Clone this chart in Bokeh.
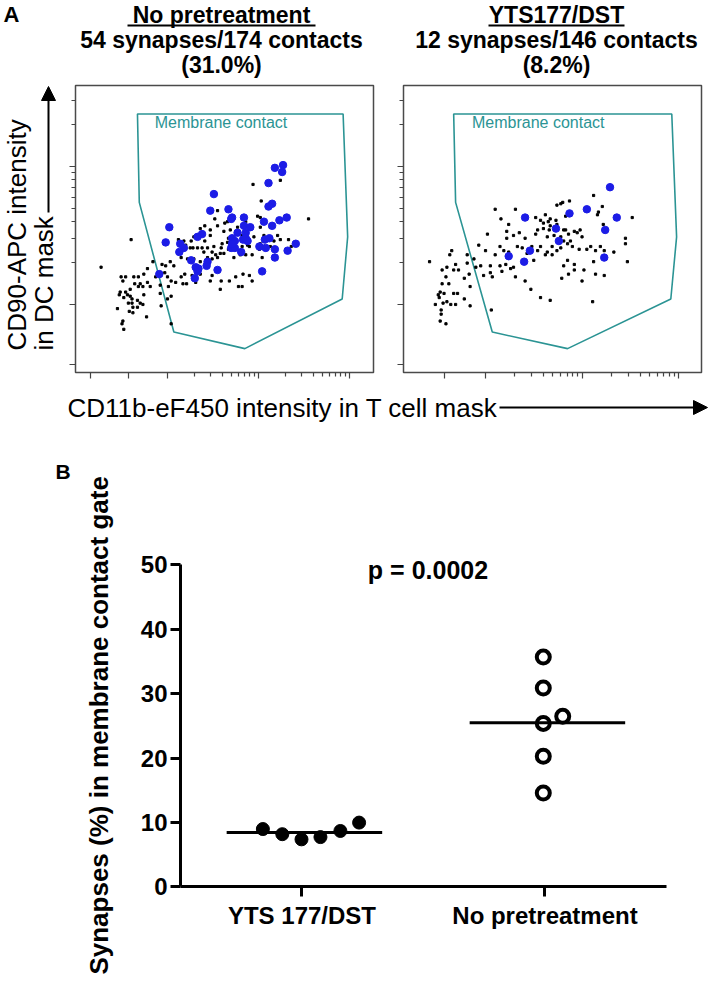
import numpy as np
from bokeh.plotting import figure
from bokeh.models import Label, Arrow, NormalHead, FixedTicker, Range1d
from bokeh.layouts import column, row
from bokeh.embed import file_html
from bokeh.resources import INLINE

FONT = "Liberation Sans"
TEAL = "#2b9494"
BLUE = "#1c1ce6"

# ---------------- Panel A data (log10 intensity units) ----------------
gate_x = [2.67, 4.93, 4.98, 4.92, 3.85, 3.07, 2.69]
gate_y = [4.38, 4.38, 3.49, 3.04, 2.68, 2.80, 3.74]

L_black_x = [3.94, 4.03, 4.24, 4.55, 3.55, 3.63, 3.52, 3.41, 2.60, 2.27, 3.47, 3.41, 3.12, 3.18, 3.25,
             3.28, 3.33, 3.38, 3.44, 3.40, 3.49, 3.53, 3.58, 3.59, 3.60, 3.66, 3.62, 3.67, 3.75, 3.82,
             3.88, 3.90, 4.02, 4.01, 4.13, 4.24, 4.33, 4.36, 4.04, 3.93, 3.86, 3.80, 3.73, 3.55, 3.49,
             3.44, 3.36, 3.29, 3.22, 3.15, 3.03, 3.07, 2.98, 2.97, 2.94, 2.78, 2.84, 2.74, 2.68, 2.63,
             2.54, 2.49, 2.51, 2.64, 2.70, 2.78, 2.87, 3.00, 3.04, 3.09, 3.15, 3.19, 3.27, 3.36, 3.49,
             3.59, 3.68, 3.75, 3.83, 3.90, 3.93, 3.82, 3.78, 3.58, 3.47, 3.31, 3.21, 3.17, 3.01, 2.92,
             2.81, 2.73, 2.68, 2.59, 2.54, 2.48, 2.56, 2.59, 2.47, 2.52, 2.61, 2.67, 2.74, 2.73, 2.70,
             2.57, 2.61, 2.62, 2.58, 2.62, 2.92, 3.00, 3.04, 2.93, 2.51, 2.50, 2.52, 2.45, 2.67, 3.04,
             2.77, 3.51, 3.71, 3.77, 3.69, 3.62, 3.55, 3.47, 3.36, 3.29, 3.26, 3.20, 3.67, 3.82, 3.93,
             3.95, 4.06, 4.17, 4.21, 4.13, 4.02, 3.86, 3.66, 3.99, 4.02]
L_black_y = [3.87, 3.75, 3.90, 3.62, 3.68, 3.59, 3.62, 3.57, 3.47, 3.27, 3.50, 3.46, 3.47, 3.46, 3.41,
             3.41, 3.41, 3.41, 3.41, 3.38, 3.38, 3.36, 3.37, 3.41, 3.44, 3.45, 3.37, 3.40, 3.42, 3.42,
             3.43, 3.42, 3.44, 3.40, 3.42, 3.47, 3.47, 3.42, 3.34, 3.36, 3.36, 3.36, 3.34, 3.34, 3.33,
             3.34, 3.31, 3.33, 3.33, 3.34, 3.31, 3.28, 3.28, 3.23, 3.29, 3.26, 3.31, 3.22, 3.20, 3.20,
             3.20, 3.20, 3.17, 3.15, 3.15, 3.16, 3.20, 3.20, 3.17, 3.16, 3.20, 3.22, 3.21, 3.22, 3.21,
             3.17, 3.17, 3.20, 3.22, 3.21, 3.17, 3.13, 3.13, 3.11, 3.17, 3.16, 3.15, 3.15, 3.13, 3.14,
             3.13, 3.13, 3.13, 3.11, 3.09, 3.09, 3.07, 3.06, 3.07, 3.05, 3.04, 3.03, 3.07, 3.00, 3.01,
             3.01, 3.01, 2.98, 2.95, 2.94, 3.08, 3.04, 3.06, 2.99, 2.88, 2.86, 2.82, 2.97, 2.98, 2.86,
             2.91, 3.42, 3.49, 3.56, 3.54, 3.53, 3.57, 3.54, 3.55, 3.49, 3.46, 3.43, 3.48, 3.50, 3.56,
             3.49, 3.50, 3.46, 3.50, 3.56, 3.56, 3.60, 3.60, 3.64, 3.63]
L_blue_x = [4.18, 4.27, 4.26, 4.11, 3.51, 4.15, 4.11, 3.47, 3.67, 3.71, 3.70, 3.84, 4.06, 4.23, 4.31,
            3.02, 3.84, 3.91, 3.77, 4.15, 3.86, 3.38, 3.33, 3.71, 3.74, 3.83, 3.86, 4.07, 4.12, 2.98,
            3.14, 3.18, 3.13, 4.01, 4.08, 4.41, 3.70, 3.74, 3.81, 4.18, 4.32, 3.26, 3.44, 4.18, 3.43,
            3.31, 3.33, 3.55, 4.04, 2.91, 3.30, 3.34, 3.71, 3.88]
L_blue_y = [3.99, 4.01, 3.96, 3.88, 3.80, 3.73, 3.71, 3.68, 3.69, 3.63, 3.62, 3.63, 3.60, 3.61, 3.63,
            3.56, 3.57, 3.56, 3.52, 3.57, 3.52, 3.51, 3.49, 3.48, 3.46, 3.47, 3.48, 3.47, 3.48, 3.45,
            3.44, 3.41, 3.38, 3.42, 3.41, 3.44, 3.41, 3.41, 3.38, 3.40, 3.39, 3.32, 3.31, 3.34, 3.28,
            3.27, 3.24, 3.25, 3.24, 3.22, 3.19, 3.26, 3.44, 3.46]

R_black_x = [4.12, 3.74, 3.78, 3.80, 3.87, 3.31, 3.10, 3.16, 3.24, 3.22, 3.22, 3.02, 3.52, 3.62, 3.67,
             3.73, 3.57, 3.60, 3.65, 3.54, 3.52, 3.41, 3.35, 3.29, 3.33, 3.38, 3.43, 3.48, 3.54, 3.57,
             3.62, 3.50, 3.15, 3.19, 3.24, 3.10, 3.15, 3.05, 3.00, 2.93, 2.95, 2.90, 2.81, 2.88, 2.83,
             2.78, 2.72, 2.81, 2.67, 2.69, 2.63, 2.65, 2.60, 2.55, 2.59, 2.62, 2.55, 2.53, 2.51, 2.57,
             2.52, 2.48, 2.56, 2.60, 2.64, 2.67, 2.71, 2.69, 2.78, 2.84, 2.54, 2.54, 2.53, 2.59, 2.84,
             2.98, 3.07, 3.05, 3.17, 3.26, 3.21, 3.31, 3.29, 3.41, 3.47, 3.57, 3.67, 4.00, 4.11, 4.23,
             4.14, 3.79, 3.86, 3.92, 4.02, 4.12, 4.14, 4.09, 4.05, 3.97, 3.90, 3.85, 3.81, 3.78, 3.74,
             3.69, 3.64, 3.69, 3.85, 3.92, 3.81, 4.19, 4.23, 4.33, 4.45, 4.45, 4.47, 3.95, 3.98, 3.92,
             3.86, 3.88, 3.83, 3.78, 3.71, 3.66, 3.60, 3.67, 4.00, 4.16, 4.17, 4.21, 3.74, 3.81, 3.83,
             4.52, 4.22, 3.64, 2.42, 3.06]
R_black_y = [3.79, 3.72, 3.73, 3.74, 3.75, 3.69, 3.69, 3.62, 3.58, 3.53, 3.48, 3.51, 3.63, 3.65, 3.62,
             3.61, 3.61, 3.59, 3.60, 3.54, 3.51, 3.48, 3.52, 3.50, 3.42, 3.41, 3.37, 3.42, 3.39, 3.42,
             3.36, 3.32, 3.42, 3.39, 3.38, 3.36, 3.28, 3.28, 3.39, 3.43, 3.28, 3.27, 3.36, 3.33, 3.22,
             3.19, 3.25, 3.30, 3.25, 3.29, 3.36, 3.39, 3.27, 3.25, 3.20, 3.15, 3.15, 3.09, 3.07, 3.08,
             3.05, 3.00, 3.01, 3.02, 3.00, 3.08, 3.08, 3.00, 3.04, 2.99, 2.96, 2.93, 2.88, 2.86, 3.13,
             3.21, 3.20, 3.23, 3.24, 3.26, 3.29, 3.20, 3.27, 3.17, 3.11, 3.05, 3.03, 3.17, 3.02, 3.21,
             3.22, 3.19, 3.22, 3.25, 3.25, 3.31, 3.39, 3.42, 3.40, 3.40, 3.42, 3.44, 3.46, 3.41, 3.39,
             3.42, 3.38, 3.36, 3.32, 3.29, 3.28, 3.42, 3.39, 3.38, 3.48, 3.44, 3.31, 3.52, 3.54, 3.53,
             3.51, 3.46, 3.54, 3.49, 3.50, 3.54, 3.55, 3.57, 3.49, 3.65, 3.67, 3.71, 3.58, 3.54, 3.64,
             3.63, 3.58, 3.49, 3.31, 2.96]
R_blue_x = [4.29, 3.41, 3.87, 4.05, 4.36, 3.73, 4.24, 3.76, 3.46, 3.24, 3.40, 4.23]
R_blue_y = [3.85, 3.63, 3.66, 3.69, 3.63, 3.55, 3.54, 3.46, 3.39, 3.35, 3.31, 3.34]

titles_L = ["No pretreatment", "54 synapses/174 contacts", "(31.0%)"]
titles_R = ["YTS177/DST", "12 synapses/146 contacts", "(8.2%)"]

# axis ticks (display transform: log10 decades, hyperlog region below 3)
y_major = [2.565, 3.0, 4.0]
x_major_L = [2.15, 2.57, 3.0, 4.0, 5.0]
x_major_R = [2.57, 3.0, 4.0, 5.0]
dec = list(np.log10(np.arange(2, 10)))
x_minor = [3 + d for d in dec] + [4 + d for d in dec]
y_minor = [3 + d for d in dec] + [4 + d for d in dec[:2]]

# ---------------- Panel B data ----------------
groups = ["YTS 177/DST", "No pretreatment"]
yts_vals = [9.0, 8.2, 7.4, 7.75, 8.7, 10.0]
yts_jit = [-0.161, -0.081, -0.002, 0.076, 0.158, 0.235]
nopre_vals = [35.7, 30.9, 25.4, 26.5, 20.3, 14.6]
nopre_jit = [-0.007, -0.007, -0.007, 0.073, -0.007, -0.007]
medians = [8.45, 25.5]
y_ticks_B = [0, 10, 20, 30, 40, 50]


def lab(p, x, y, text, size, bold=False, color="black", align="left", angle=0.0):
    p.add_layout(Label(x=x, y=y, text=text, text_font=FONT, text_font_size=f"{size}px",
                       text_font_style="bold" if bold else "normal", text_color=color,
                       text_align=align, text_baseline="middle", angle=angle))


def strip(width, height, top, bottom, btop=0, bbot=0):
    """Blank text strip whose frame spans page rows top..bottom (y runs downwards)."""
    p = figure(width=width, height=height, x_range=Range1d(0, width),
               y_range=Range1d(bottom, top), output_backend="svg",
               toolbar_location=None, tools="", title=None, min_border=0,
               min_border_top=btop, min_border_bottom=bbot)
    p.axis.visible = False
    p.grid.visible = False
    p.outline_line_color = None
    return p


def hide_labels(ax, ticks):
    ax.major_label_overrides = {t: "" for t in ticks}


def scatter_panel(width, bl, br, xr, xmaj, bx, by, ux, uy):
    p = figure(width=width, height=305, x_range=Range1d(*xr), y_range=Range1d(2.507, 4.587),
               output_backend="svg", toolbar_location=None, tools="", title=None,
               min_border_left=bl, min_border_right=br, min_border_top=2, min_border_bottom=16)
    p.grid.visible = False
    p.outline_line_color = "#4a4a4a"
    p.outline_line_width = 1.5
    p.xaxis[0].ticker = FixedTicker(ticks=xmaj, minor_ticks=x_minor)
    p.yaxis[0].ticker = FixedTicker(ticks=y_major, minor_ticks=y_minor)
    hide_labels(p.xaxis[0], xmaj)
    hide_labels(p.yaxis[0], y_major)
    for ax in (p.xaxis[0], p.yaxis[0]):
        ax.axis_line_color = None
        ax.major_label_text_font_size = "10px"
        ax.major_label_standoff = 0
        ax.major_tick_out = 6
        ax.major_tick_in = 0
        ax.minor_tick_out = 4
        ax.minor_tick_in = 0
        ax.major_tick_line_color = "#444444"
        ax.minor_tick_line_color = "#444444"
        ax.major_tick_line_width = 1.2
        ax.minor_tick_line_width = 1.2
    p.patch(gate_x, gate_y, fill_color=None, line_color=TEAL, line_width=1.6)
    p.scatter(bx, by, marker="square", size=2.2, color="black")
    p.scatter(ux, uy, marker="circle", size=7.5, color=BLUE)
    lab(p, 2.86, 4.319, "Membrane contact", 16, color=TEAL)
    return p


# ---- title strip (page y 0..83)
tT = strip(709, 83, 0, 83)
lab(tT, 3, 14, "A", 22, bold=True)
for i, mid in enumerate([14, 39, 64]):
    lab(tT, 221, mid, titles_L[i], 23, bold=True, align="center")
    lab(tT, 556, mid, titles_R[i], 23, bold=True, align="center")
tT.add_layout(Arrow(end=None, x_start=127, y_start=25, x_end=315, y_end=25, line_width=2))
tT.add_layout(Arrow(end=None, x_start=488, y_start=25, x_end=624, y_end=25, line_width=2))

# ---- y label strip of panel A (frame rows aligned with the scatter panels: page 85..372)
yA = strip(60, 305, 85, 372, btop=2, bbot=16)
lab(yA, 16.5, 350, "CD90-APC intensity", 26, angle=np.pi / 2)
lab(yA, 43.5, 350, "in DC mask", 26, angle=np.pi / 2)
yA.add_layout(Arrow(end=NormalHead(size=14, fill_color="black", line_color="black"),
                    x_start=48, y_start=212, x_end=48, y_end=86, line_width=2))

pL = scatter_panel(328, 15, 15, (1.989, 5.264), x_major_L, L_black_x, L_black_y, L_blue_x, L_blue_y)
pR = scatter_panel(321, 15, 8, (2.150, 5.238), x_major_R, R_black_x, R_black_y, R_blue_x, R_blue_y)

# ---- x label strip (page y 388..440)
pX = strip(709, 52, 388, 440)
lab(pX, 67, 407, "CD11b-eF450 intensity in T cell mask", 26)
pX.add_layout(Arrow(end=NormalHead(size=14, fill_color="black", line_color="black"),
                    x_start=499, y_start=407, x_end=707, y_end=407, line_width=2))

# ---- panel B (page y 440..981); frame fills the figure, axes drawn at fixed locations
pB = figure(width=709, height=541, x_range=Range1d(-0.7407, 2.1770),
            y_range=Range1d(-14.674, 69.332), output_backend="svg", toolbar_location=None,
            tools="", title=None, min_border=0)
pB.grid.visible = False
pB.outline_line_color = None
pos = [0.5, 1.5]
xa, ya = pB.xaxis[0], pB.yaxis[0]
xa.fixed_location = 0
ya.fixed_location = 0
xa.bounds = (0, 2)
ya.bounds = (0, 50)
xa.ticker = FixedTicker(ticks=pos, minor_ticks=[])
xa.major_label_overrides = {pos[0]: groups[0], pos[1]: groups[1]}
ya.ticker = FixedTicker(ticks=y_ticks_B, minor_ticks=[])
for ax in (xa, ya):
    ax.axis_line_width = 3
    ax.major_tick_line_width = 3
    ax.major_tick_out = 10
    ax.major_tick_in = 0
    ax.minor_tick_line_color = None
    ax.major_label_text_font = FONT
    ax.major_label_text_font_style = "bold"
    ax.major_label_text_font_size = "24px"
    ax.major_label_text_color = "black"
xa.major_label_standoff = 5
ya.major_label_standoff = 3

xs_y = [pos[0] + j for j in yts_jit]
xs_n = [pos[1] + j for j in nopre_jit]
pB.segment(x0=[p_ - 0.31 for p_ in pos], x1=[p_ + 0.33 for p_ in pos], y0=medians, y1=medians,
           line_color="black", line_width=3)
pB.scatter(xs_y, yts_vals, marker="circle", size=13, color="black")
pB.scatter(xs_n, nopre_vals, marker="circle", size=13, fill_color=None, line_color="black",
           line_width=4)
lab(pB, 1.0185, 49.15, "p = 0.0002", 25, bold=True, align="center")
lab(pB, -0.514, 64.5, "B", 21, bold=True)
lab(pB, -0.335, 25.1, "Synapses (%) in membrane contact gate", 26, bold=True, align="center",
    angle=np.pi / 2)

layout = column(row(tT), row(yA, pL, pR), row(pX), row(pB))
open("out.html", "w").write(file_html(layout, INLINE))
